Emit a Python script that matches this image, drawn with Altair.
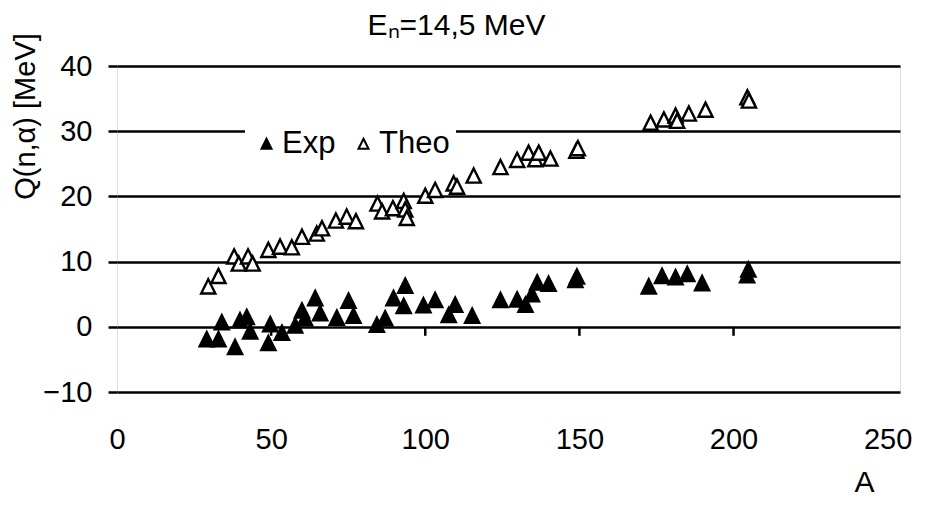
import altair as alt
import pandas as pd

# ---- data ----
series_names = ["Exp", "Theo"]

exp_A = [29.1, 32.9, 34.0, 38.3, 39.9, 42.1, 43.2, 49.1, 49.7, 53.5, 57.8, 60.0, 61.0,
         64.3, 65.9, 71.3, 75.1, 76.7, 84.3, 87.0, 89.7, 93.0, 93.5, 99.4, 103.2, 107.6,
         109.7, 115.2, 124.4, 129.8, 132.5, 134.6, 136.3, 140.0, 148.7, 149.2, 172.5,
         176.8, 181.2, 185.0, 189.8, 204.4, 204.8]
exp_Q = [-1.9, -1.9, 0.7, -3.1, 1.0, 1.5, -0.7, -2.5, 0.4, -0.9, 0.2, 2.5, 1.3,
         4.4, 2.1, 1.4, 4.0, 1.7, 0.3, 1.3, 4.4, 3.2, 6.3, 3.3, 4.1, 1.8,
         3.4, 1.7, 4.1, 4.2, 3.4, 5.0, 6.8, 6.6, 7.2, 7.7, 6.2,
         7.8, 7.6, 8.1, 6.7, 7.9, 8.8]

theo_A = [29.6, 32.9, 38.0, 39.5, 42.5, 44.0, 49.1, 52.9, 56.7, 60.0, 64.8, 66.5,
          71.0, 74.5, 77.5, 84.5, 86.0, 89.5, 93.0, 93.5, 94.0, 100.0, 103.2, 109.2,
          110.3, 115.7, 124.4, 129.8, 133.5, 135.7, 136.8, 140.6, 149.0, 149.5,
          173.1, 177.4, 181.2, 181.7, 185.5, 190.9, 204.5, 205.0]
theo_Q = [6.2, 7.8, 10.8, 9.7, 10.8, 9.7, 11.8, 12.3, 12.2, 13.8, 14.3, 15.1,
          16.3, 16.9, 16.2, 18.9, 17.7, 18.2, 19.3, 18.0, 16.7, 20.1, 21.0, 22.0,
          21.5, 23.2, 24.5, 25.6, 26.7, 25.7, 26.7, 25.8, 27.0, 27.4,
          31.3, 31.8, 32.4, 31.6, 32.7, 33.3, 35.2, 34.7]

x_label_values = [0, 50, 100, 150, 200, 250]
x_axis_ticks = [50, 100, 150, 200]
y_tick_values = [-10, 0, 10, 20, 30, 40]

title_text = "E\u2099=14,5 MeV"
y_title = "Q(n,\u03b1) [MeV]"
x_title = "A"

# ---- tables ----
df = pd.DataFrame({
    "A": exp_A + theo_A,
    "Q": exp_Q + theo_Q,
    "series": [series_names[0]] * len(exp_A) + [series_names[1]] * len(theo_A),
})
ticks_df = pd.DataFrame({"A": x_axis_ticks})

FONT = "Liberation Sans, Arial, sans-serif"
TRI = "M0,-1L1,1L-1,1Z"

x_scale = alt.Scale(domain=[0, 254], nice=False, zero=False)
y_scale = alt.Scale(domain=[-10, 40], nice=False, zero=False)

points = alt.Chart(df).mark_point(
    shape=TRI, size=200, filled=True, stroke="black", strokeWidth=2.4, opacity=1
).encode(
    x=alt.X("A:Q", scale=x_scale, axis=alt.Axis(
        values=x_label_values, domain=False, ticks=False, grid=False,
        labelFont=FONT, labelFontSize=29, labelColor="black", labelPadding=33,
        labelFlush=False,
        title=x_title, titleFont=FONT, titleFontSize=30, titleFontWeight="normal",
        titleColor="black", titleX=747, titleY=90, titleAlign="center",
        titleBaseline="middle")),
    y=alt.Y("Q:Q", scale=y_scale, axis=alt.Axis(
        values=y_tick_values, domain=False, grid=True, gridColor="black",
        gridWidth=2.5, gridOpacity=1, ticks=True, tickSize=9, tickWidth=2.5,
        tickColor="black", labelFont=FONT, labelFontSize=29, labelColor="black",
        labelPadding=16, labelFlush=False,
        title=y_title, titleFont=FONT, titleFontSize=29, titleFontWeight="normal",
        titleColor="black", titleX=-92, titleY=50, titleAngle=270,
        titleAlign="center", titleBaseline="middle")),
    fill=alt.Fill("series:N", scale=alt.Scale(domain=series_names, range=["black", "white"]),
                  legend=alt.Legend(
                      orient="none", legendX=128, legendY=56, direction="horizontal",
                      title=None, fillColor="white", padding=6,
                      symbolType=TRI, symbolSize=100, symbolStrokeColor="black",
                      symbolStrokeWidth=2, labelFont=FONT, labelFontSize=31,
                      labelColor="black", labelOffset=0, columnPadding=12)),
)

x_ticks = alt.Chart(ticks_df).mark_rule(
    color="black", strokeWidth=2.5, y2Offset=9
).encode(
    x=alt.X("A:Q", scale=x_scale),
    y=alt.YDatum(0),
    y2=alt.Y2Datum(0),
)

chart = alt.layer(x_ticks, points).properties(
    width=783, height=326,
    title=alt.TitleParams(text=title_text, font=FONT, fontSize=30, fontWeight="normal",
                          color="black", anchor="middle", dx=-52, dy=58, offset=26,
                          baseline="alphabetic"),
    autosize=alt.AutoSizeParams(type="none"),
    padding={"left": 109, "top": 58, "right": 12, "bottom": 106},
).configure_view(stroke="black", strokeWidth=2.5).configure(background="white")

chart.save("out.html", embed_options={"renderer": "svg", "actions": False})
